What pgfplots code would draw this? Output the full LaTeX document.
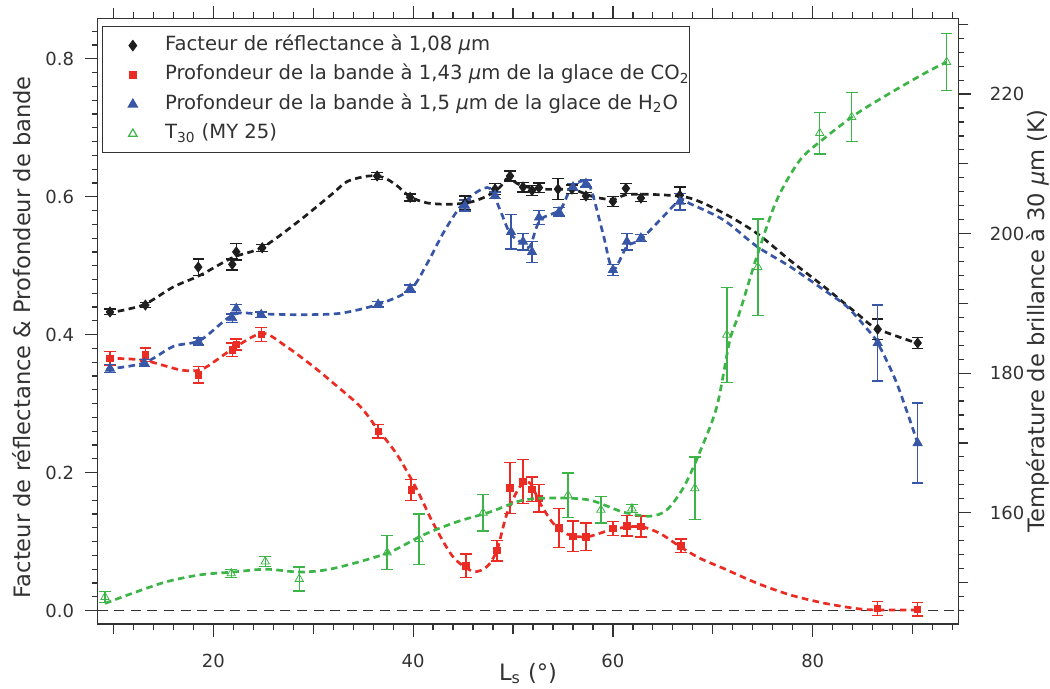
\documentclass[border=0pt]{standalone}
\usepackage{fontspec}
\setmainfont{DejaVu Sans}
\usepackage{pgfplots}
\pgfplotsset{compat=1.18}
\usepackage{pgfplotstable}

\definecolor{cK}{RGB}{30,30,30}
\definecolor{cR}{RGB}{234,44,36}
\definecolor{cB}{RGB}{56,86,166}
\definecolor{cG}{RGB}{60,180,72}
\definecolor{cAx}{RGB}{50,50,50}

\pgfplotstableread{
x y e
9.66 0.433 0.004
13.2 0.443 0.004
18.5 0.498 0.012
21.9 0.502 0.008
22.3 0.520 0.012
24.9 0.526 0.005
36.4 0.630 0.005
39.7 0.599 0.005
45.2 0.591 0.010
48.2 0.611 0.008
49.7 0.630 0.007
51.0 0.614 0.007
51.9 0.609 0.007
52.6 0.613 0.007
54.5 0.611 0.015
55.9 0.611 0.006
57.3 0.601 0.005
60.0 0.593 0.007
61.3 0.612 0.007
62.8 0.598 0.005
66.7 0.602 0.012
86.5 0.408 0.015
90.5 0.388 0.008
}\blackdata

\pgfplotstableread{
x y e
9.66 0.366 0.010
13.2 0.371 0.010
18.5 0.342 0.012
21.9 0.378 0.010
22.3 0.386 0.008
24.8 0.400 0.010
36.5 0.260 0.010
39.8 0.175 0.015
45.3 0.065 0.017
48.4 0.087 0.015
49.7 0.178 0.037
51.0 0.187 0.032
51.9 0.176 0.018
52.6 0.163 0.020
54.6 0.120 0.028
56.0 0.108 0.022
57.3 0.107 0.020
60.0 0.119 0.010
61.4 0.123 0.015
62.8 0.122 0.015
66.8 0.094 0.010
86.5 0.003 0.010
90.5 0.002 0.010
}\reddata

\pgfplotstableread{
x y e
9.66 0.351 0.006
13.1 0.359 0.005
18.5 0.390 0.005
21.9 0.424 0.006
22.3 0.438 0.006
24.8 0.429 0.004
36.5 0.444 0.004
39.7 0.467 0.005
45.2 0.587 0.008
48.2 0.602 0.005
49.8 0.549 0.025
51.0 0.535 0.012
51.9 0.520 0.015
52.6 0.570 0.010
54.6 0.578 0.006
56.0 0.614 0.005
57.3 0.619 0.005
60.0 0.494 0.008
61.4 0.535 0.012
62.8 0.540 0.005
66.7 0.593 0.012
86.5 0.388 0.055
90.5 0.243 0.058
}\bluedata

\pgfplotstableread{
x y e
9.16 147.9 0.8
21.8 151.3 0.6
25.2 153.0 0.7
28.6 150.5 1.7
37.4 154.3 2.4
40.6 156.2 3.6
47.0 160.0 2.6
55.5 162.5 3.2
58.8 160.4 1.9
61.9 160.6 0.6
68.2 163.5 4.5
71.4 185.5 6.8
74.5 195.2 6.9
80.7 214.4 3.0
83.9 216.7 3.5
93.4 224.6 4.1
}\greendata

\begin{document}
\begin{tikzpicture}
\useasboundingbox (-48.85pt,-32.5pt) rectangle (476.15pt,312pt);
\pgfplotsset{
  every axis/.append style={
    scale only axis, width=430.3pt, height=302.85pt,
    xmin=8.43, xmax=94.57,
    tick align=outside,
    axis line style={cAx, line width=0.6pt},
    every tick/.style={cAx, line width=0.6pt},
    major tick length=6.3pt, minor tick length=3pt,
    tick label style={font=\fontsize{9}{10}\selectfont, text=cAx},
    /pgf/number format/assume math mode=true,
    label style={font=\fontsize{11.3}{13}\selectfont, text=cAx},
    clip=false,
  },
  fit/.style={line width=1.35pt, dash pattern=on 3.3pt off 2.2pt, smooth},
  eb/.style={error bars/.cd, y dir=both, y explicit,
    error bar style={line width=0.7pt},
    error mark options={rotate=90, line width=0.7pt, mark size=2.9pt}},
}
\begin{axis}[
  ymin=-0.0193, ymax=0.8586,
  xtick={20,40,60,80},
  minor xtick={10,12,...,94},
  extra x ticks={10,30,50,70,90},
  extra x tick labels={},
  extra x tick style={major tick length=5pt},
  ytick={0,0.2,0.4,0.6,0.8},
  minor ytick={0,0.02,...,0.85},
  ytick pos=left,
  xticklabel style={yshift=-5pt},
  yticklabel style={xshift=-2pt, /pgf/number format/.cd, fixed, fixed zerofill, precision=1},
  xlabel={L\textsubscript{s} (°)},
  ylabel={Facteur de réflectance \& Profondeur de bande},
  xlabel style={at={(axis description cs:0.5,-0.0925)}, anchor=base},
  ylabel style={at={(axis description cs:-0.0775,0.4736)}, anchor=base, rotate=0},
  legend image code/.code={\path (0pt,0pt) (30.8pt,0pt); \draw[#1] plot coordinates {(15pt,0pt)};},
  legend cell align=left,
  legend style={at={(axis description cs:0.0046,0.9873)}, anchor=north west,
    draw=cAx, line width=0.6pt, inner xsep=0pt, inner ysep=4.5pt,
    font=\fontsize{9.8}{12}\selectfont, text=cAx, row sep=4.7pt,
    nodes={inner sep=0pt, text height=7.5pt, text depth=2.5pt}},
]
\addplot[forget plot, cAx, line width=0.5pt, dash pattern=on 5pt off 3.3pt] coordinates {(8.43,0) (94.57,0)};
% fits
\addplot[forget plot, fit, cK] coordinates {
(9.36,0.431) (12.96,0.443) (15.97,0.469) (18.67,0.486) (21.97,0.512) (24.97,0.527)
(28.68,0.566) (31.98,0.605) (33.4,0.622) (35.5,0.630) (37.0,0.628) (38.3,0.617) (39.7,0.600)
(41.4,0.591) (43.7,0.589) (45.7,0.592) (47.4,0.601) (48.7,0.614) (49.5,0.627)
(50.7,0.617) (52.7,0.611) (56.0,0.610) (58.0,0.600) (60.0,0.596) (61.4,0.603)
(64.4,0.603) (67.7,0.598) (71.1,0.576) (74.4,0.547) (77.7,0.508) (81.1,0.470)
(84.4,0.431) (86.4,0.409) (90.4,0.388)};
\addplot[forget plot, fit, cB] coordinates {
(9.33,0.350) (13.06,0.359) (16.0,0.383) (18.7,0.392) (22.0,0.429) (24.7,0.430)
(28.7,0.429) (32.7,0.431) (36.5,0.444) (39.7,0.465) (41.4,0.503) (43.0,0.547)
(44.7,0.585) (46.4,0.607) (47.7,0.612) (48.7,0.581) (49.7,0.547) (51.0,0.532)
(51.7,0.528) (52.7,0.566) (54.7,0.581) (55.7,0.610) (56.7,0.622) (57.7,0.615)
(59.0,0.547) (60.0,0.494) (61.4,0.528) (62.7,0.537) (64.7,0.566) (66.7,0.595)
(67.7,0.590) (71.1,0.566) (74.4,0.528) (77.7,0.499) (81.1,0.465) (83.4,0.441)
(85.4,0.409) (86.5,0.388) (88.4,0.330) (90.5,0.243)};
\addplot[forget plot, fit, cR] coordinates {
(9.33,0.366) (13.0,0.363) (16.7,0.349) (18.7,0.349) (20.3,0.363) (22.0,0.380)
(24.9,0.402) (27.3,0.383) (30.0,0.354) (32.0,0.330) (34.7,0.296) (36.4,0.264)
(38.4,0.226) (40.4,0.175) (42.0,0.127) (44.0,0.078) (46.0,0.057) (47.4,0.064)
(48.4,0.088) (49.4,0.141) (50.7,0.180) (51.7,0.185) (52.7,0.156) (54.0,0.127)
(55.4,0.111) (57.4,0.107) (60.0,0.118) (62.7,0.122) (64.7,0.112) (66.7,0.093)
(68.7,0.076) (71.1,0.061) (74.4,0.040) (77.7,0.023) (81.1,0.011) (84.4,0.003)
(86.4,0.001) (90.4,0.001)};
% points
\addplot[cK, only marks, mark=diamond*, mark size=2.5pt, eb] table[x=x,y=y,y error=e] {\blackdata};
\addlegendentry{Facteur de réflectance à 1,08 {\itshape μ}m}
\addplot[cR, only marks, mark=square*, mark size=1.6pt, eb] table[x=x,y=y,y error=e] {\reddata};
\addlegendentry{Profondeur de la bande à 1,43 {\itshape μ}m de la glace de CO\textsubscript{2}}
\addplot[cB, only marks, mark=triangle*, mark size=2.6pt, eb] table[x=x,y=y,y error=e] {\bluedata};
\addlegendentry{Profondeur de la bande à 1,5 {\itshape μ}m de la glace de H\textsubscript{2}O}
\addlegendimage{cG, only marks, mark=triangle, mark size=2.4pt}
\addlegendentry{T\textsubscript{30} (MY 25)}
\end{axis}

\begin{axis}[
  ymin=144.05, ymax=230.86,
  hide x axis,
  axis y line*=right,
  tick align=outside,
  ytick={160,180,200,220},
  minor ytick={146,148,...,230},
  extra y ticks={150,170,190,210,230},
  extra y tick labels={},
  extra y tick style={major tick length=5pt},
  yticklabel style={xshift=6pt},
  ylabel={Température de brillance à 30 {\itshape μ}m (K)},
  ylabel style={at={(axis description cs:1.0999,0.5)}, anchor=base, rotate=0},
]
\addplot[fit, cG] coordinates {
(9.16,147.0) (12.0,148.5) (15.3,150.1) (18.7,151.1) (22.0,151.5) (25.3,151.9)
(28.7,151.5) (32.0,152.0) (37.4,154.2) (41.0,156.8) (44.4,158.7) (47.7,160.1)
(51.0,161.8) (54.4,162.1) (57.7,161.8) (61.0,160.1) (63.7,159.5) (65.4,160.4)
(67.1,163.7) (68.7,168.7) (70.4,175.2) (71.7,184.7) (72.7,188.8) (74.4,196.7)
(76.4,204.8) (78.7,210.5) (81.1,213.6) (84.4,217.2) (87.7,220.1) (91.1,222.9)
(93.4,224.6)};
\addplot[cG, only marks, mark=triangle, mark size=2.4pt, eb] table[x=x,y=y,y error=e] {\greendata};
\end{axis}
\end{tikzpicture}
\end{document}
